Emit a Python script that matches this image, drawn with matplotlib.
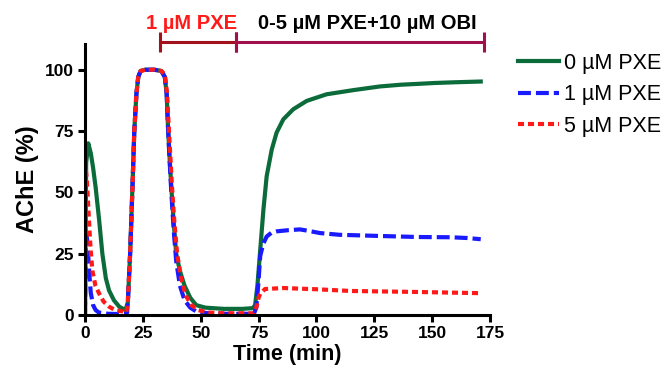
import matplotlib
matplotlib.use('Agg')
import matplotlib.pyplot as plt

plt.rcParams['font.family'] = ['Liberation Sans', 'DejaVu Sans']

# 0 µM PXE
t_green = [0, 0.5, 1.4, 2.5, 3.5, 4.6, 6.1, 7.5, 9, 10.4, 12.5, 14.8, 17.4,
           18.5, 19.5, 20.5, 21.3, 22.2, 23, 24, 26, 30, 33, 34.5, 35.3, 35.8,
           36.5, 37.3, 38.3, 39.4, 41, 43, 45.5, 48.1, 52, 60, 68, 72.5, 73.5,
           74.5, 75.6, 77.1, 78.5, 80.7, 82.8, 85.7, 90, 95.8, 104.4, 116,
           127.5, 136.5, 145, 151, 160, 171]
v_green = [0, 62, 70, 66, 60, 52, 38.8, 25, 15, 10, 6, 3.4, 2,
           5, 25, 52, 75, 90, 97, 99.5, 100, 100, 99.5, 97, 90, 78,
           65, 52, 38, 25, 18, 12, 7, 4, 3, 2.5, 2.5, 2.8, 4,
           12, 25.2, 43, 56.6, 67.5, 74.4, 79.8, 83.9, 87.3, 90, 91.7,
           93.2, 93.9, 94.3, 94.6, 94.9, 95.2]

# 1 µM PXE
t_blue = [0, 0.3, 1, 2, 2.5, 3.5, 4.6, 6, 10, 17.5, 18.2, 18.5, 19.5, 20.5,
          21.3, 22.2, 23, 24, 26, 30, 33, 34.5, 35.3, 35.8, 36.5, 37.3, 38.3,
          39.4, 41, 43, 45.5, 48, 52, 60, 70, 73, 74, 75, 75.7, 77, 78.5, 80.5,
          82.8, 88, 92.9, 96, 101.6, 110, 124.6, 143.8, 158, 165, 171]
v_blue = [0, 35, 30, 15, 9, 4, 2, 1, 0.5, 0.3, 1, 5, 25, 52,
          75, 90, 97, 99.5, 100, 100, 99.5, 97, 90, 78, 64, 50, 35,
          22, 12, 6, 3, 1.5, 0.8, 0.5, 0.5, 0.5, 3, 14, 24, 29, 32, 33.5,
          34.1, 34.6, 34.9, 34.4, 33.4, 32.7, 32.3, 31.8, 31.7, 31.4, 30.9]

# 5 µM PXE
t_red = [0, 0.3, 0.8, 1.7, 2.4, 3.2, 4.5, 6, 8, 10.4, 13, 16, 17.8, 18.5,
         19.5, 20.5, 21.3, 22.2, 23, 24, 26, 30, 33, 34.5, 35.5, 36, 36.8, 37.6,
         38.6, 39.8, 41.5, 43.5, 46, 49, 53, 60, 73, 74, 75, 75.7, 77.8, 85.7,
         100, 114.8, 143, 171]
v_red = [0, 60, 55, 38.8, 27, 18, 12, 9, 5.5, 3.4, 2, 1.5, 1, 5,
         25, 52, 75, 90, 97, 99.5, 100, 100, 99.5, 98, 90, 80, 66, 52,
         38, 25, 15, 8, 4, 2, 1, 0.7, 0.7, 3, 7, 8.6, 10.6, 11,
         10.5, 9.8, 9.4, 8.9]

# treatment periods shown above the plot
bracket_start = [32.3, 65.3]
bracket_end = [65.3, 172.6]
bracket_text_x = [46.2, 122]
bracket_labels = ['1 µM PXE', '0-5 µM PXE+10 µM OBI']
bracket_colors = ['#a3121c', '#a0104c']
bracket_text_colors = ['#ff1a1a', 'black']

fig = plt.figure(figsize=(6.65, 3.78), dpi=100)
ax = fig.add_axes([85 / 665, 1 - 315 / 378, 405 / 665, 271 / 378])

ax.plot(t_green, v_green, color='#0b6b3a', lw=3, label='0 µM PXE',
        solid_joinstyle='round')
ax.plot(t_blue, v_blue, color='#1a1aff', lw=3, ls=(0, (3.1, 1.2)),
        label='1 µM PXE')
ax.plot(t_red, v_red, color='#ff1a1a', lw=3, ls=(0, (1.45, 0.95)),
        label='5 µM PXE')

ax.set_xlim(0, 175)
ax.set_ylim(0, 110.5)
ax.set_xticks([0, 25, 50, 75, 100, 125, 150, 175])
ax.set_yticks([0, 25, 50, 75, 100])
for s in ['top', 'right']:
    ax.spines[s].set_visible(False)
for s in ['left', 'bottom']:
    ax.spines[s].set_linewidth(2.2)
ax.tick_params(width=2.2, length=5, labelsize=12.5, pad=3)
for lab in ax.get_xticklabels() + ax.get_yticklabels():
    lab.set_fontweight('bold')

ax.set_xlabel('Time (min)', fontsize=15.5, fontweight='bold', labelpad=2)
ax.set_ylabel('AChE (%)', fontsize=17, fontweight='bold', labelpad=4)

# brackets
y_br = 111.2
for x0, x1, xt, lab, c, tc in zip(bracket_start, bracket_end, bracket_text_x,
                                  bracket_labels, bracket_colors,
                                  bracket_text_colors):
    ax.plot([x0, x1], [y_br, y_br], color=c, lw=2.2, clip_on=False,
            solid_capstyle='butt')
    for xe in (x0, x1):
        ax.plot([xe, xe], [y_br - 4, y_br + 4], color=c, lw=2.2,
                clip_on=False, solid_capstyle='butt')
    ax.text(xt, y_br + 5.5, lab, color=tc, fontsize=14.5,
            fontweight='bold', ha='center', va='baseline', clip_on=False)

fig.legend(loc='upper left', bbox_to_anchor=(518 / 665, 1 - 53 / 378),
           frameon=False, fontsize=15.5, handlelength=1.9, handletextpad=0.25,
           labelspacing=0.48, borderpad=0, borderaxespad=0)

fig.savefig('out.png', dpi=100)
plt.close(fig)
